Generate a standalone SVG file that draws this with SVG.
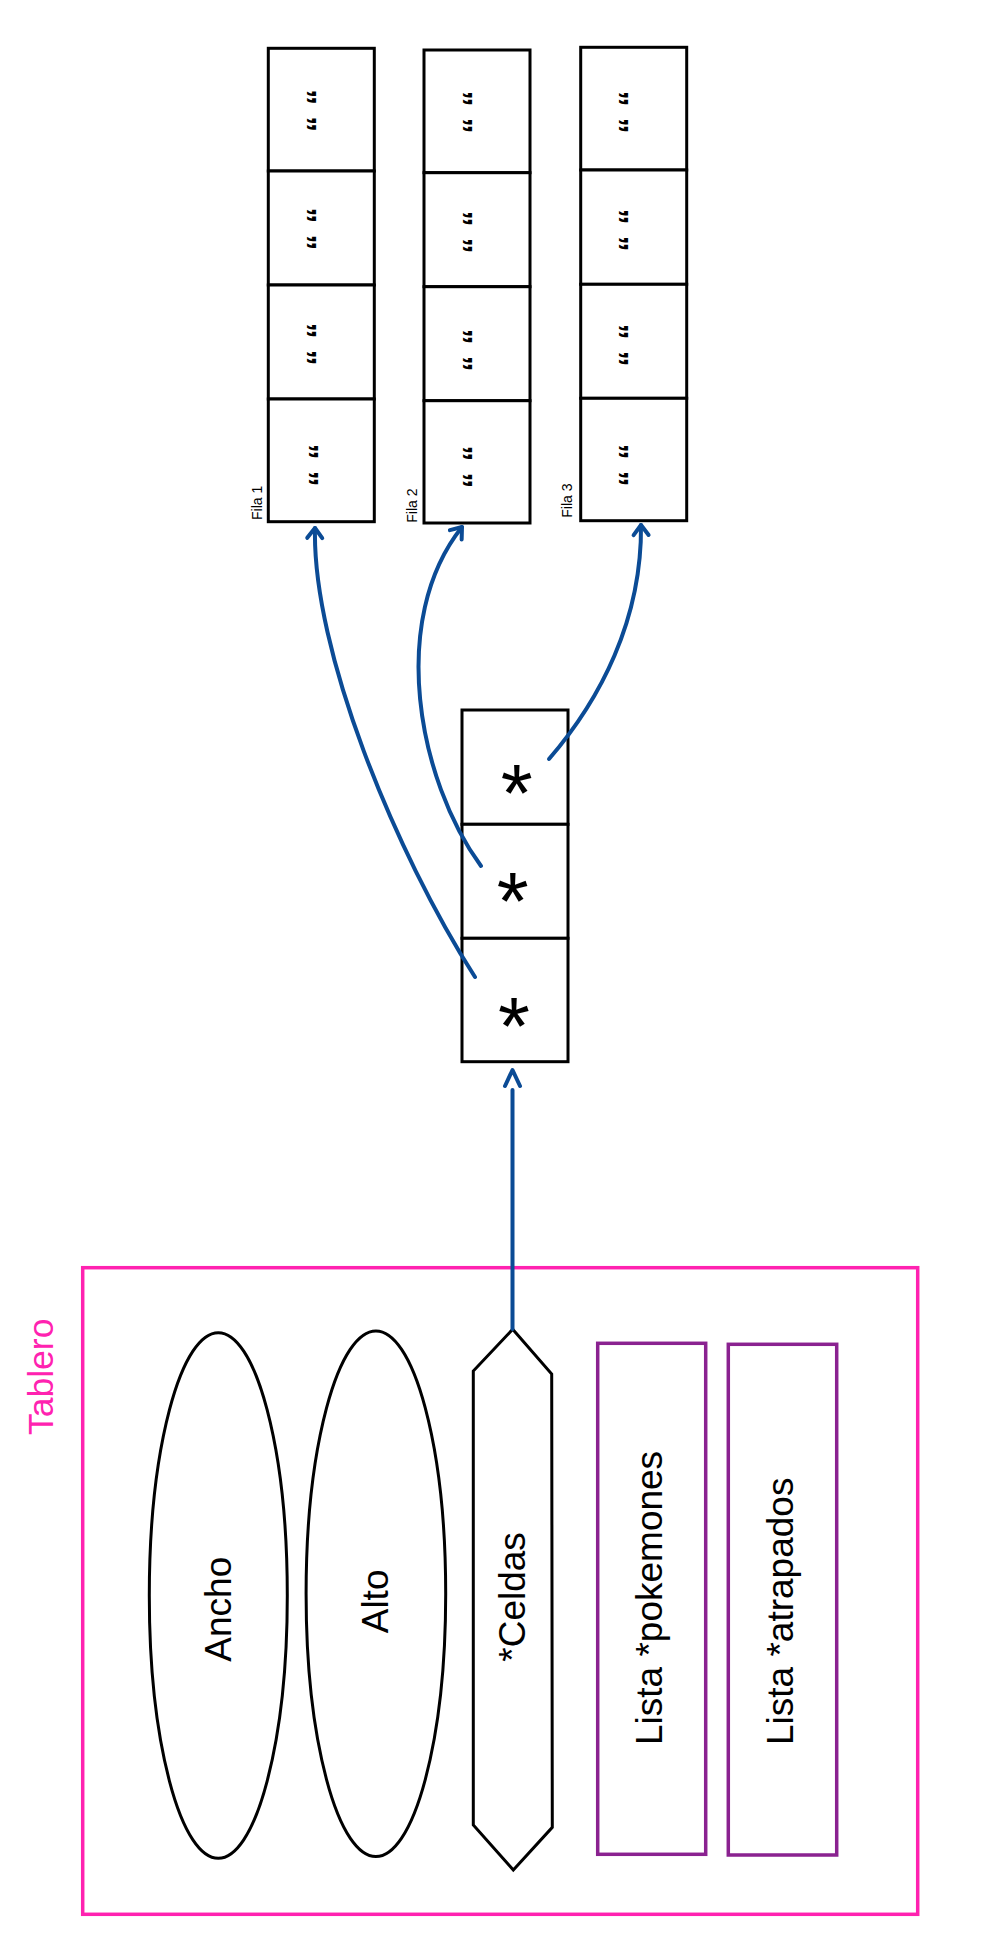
<svg xmlns="http://www.w3.org/2000/svg" width="999" height="1950" viewBox="0 0 999 1950">
<style>
.cell{fill:#fff;stroke:#000;stroke-width:3}
.shape{fill:#fff;stroke:#000;stroke-width:3}
.lst{fill:#fff;stroke:#8a2290;stroke-width:3.5}
.frame{fill:none;stroke:#ff22b0;stroke-width:3.5}
.t{font-family:"Liberation Sans",Arial,sans-serif;fill:#000}
.q{font-family:"Liberation Sans",Arial,sans-serif;font-size:32px;font-weight:bold;word-spacing:2px;fill:#000;text-anchor:middle}
.lbl{font-family:"Liberation Sans",Arial,sans-serif;font-size:14px;fill:#000}
.big{font-family:"Liberation Sans",Arial,sans-serif;font-size:37px;fill:#000}
.star{font-family:"Liberation Sans",Arial,sans-serif;font-size:82px;fill:#000;text-anchor:middle}
.conn{fill:none;stroke:#0b4b95;stroke-width:4;stroke-linecap:round}
</style>
<defs>
<marker id="ah" markerUnits="userSpaceOnUse" viewBox="-14 -10 18 20" refX="0" refY="0" markerWidth="18" markerHeight="20" orient="auto" overflow="visible">
<path d="M -10 -7.5 L 0 0 L -10 7.5" fill="none" stroke="#0b4b95" stroke-width="4" stroke-linecap="round" stroke-linejoin="round"/>
</marker>
<marker id="ahgap" markerUnits="userSpaceOnUse" viewBox="0 -10 24 20" refX="0" refY="0" markerWidth="24" markerHeight="20" orient="auto" overflow="visible">
<path d="M 4 -7.5 L 20 0 L 4 7.5" fill="none" stroke="#0b4b95" stroke-width="4" stroke-linecap="round" stroke-linejoin="round"/>
</marker>
</defs>

<g id="fila1">
<rect class="cell" x="268.3" y="48.3" width="106" height="122.7"/>
<rect class="cell" x="268.3" y="171" width="106" height="114"/>
<rect class="cell" x="268.3" y="285" width="106" height="114"/>
<rect class="cell" x="268.3" y="399" width="106" height="122.7"/>
<text class="q" transform="translate(329,110.5) rotate(-90)">“ “</text>
<text class="q" transform="translate(329,228.7) rotate(-90)">“ “</text>
<text class="q" transform="translate(329,344) rotate(-90)">“ “</text>
<text class="q" transform="translate(331,465) rotate(-90)">“ “</text>
<text class="lbl" transform="translate(262,520) rotate(-90)">Fila 1</text>
</g>

<g id="fila2">
<rect class="cell" x="424" y="50" width="106" height="122.7"/>
<rect class="cell" x="424" y="172.7" width="106" height="114"/>
<rect class="cell" x="424" y="286.7" width="106" height="114"/>
<rect class="cell" x="424" y="400.7" width="106" height="122.3"/>
<text class="q" transform="translate(485,112) rotate(-90)">“ “</text>
<text class="q" transform="translate(485,232) rotate(-90)">“ “</text>
<text class="q" transform="translate(485,350) rotate(-90)">“ “</text>
<text class="q" transform="translate(485,466.7) rotate(-90)">“ “</text>
<text class="lbl" transform="translate(417,522.7) rotate(-90)">Fila 2</text>
</g>

<g id="fila3">
<rect class="cell" x="580.7" y="47.3" width="106" height="122.7"/>
<rect class="cell" x="580.7" y="170" width="106" height="114.3"/>
<rect class="cell" x="580.7" y="284.3" width="106" height="114"/>
<rect class="cell" x="580.7" y="398.3" width="106" height="122.4"/>
<text class="q" transform="translate(641,112) rotate(-90)">“ “</text>
<text class="q" transform="translate(641,230) rotate(-90)">“ “</text>
<text class="q" transform="translate(641,345) rotate(-90)">“ “</text>
<text class="q" transform="translate(641,465) rotate(-90)">“ “</text>
<text class="lbl" transform="translate(571.5,517.7) rotate(-90)">Fila 3</text>
</g>

<g id="punteros">
<rect class="cell" x="462" y="710" width="106" height="114.3"/>
<rect class="cell" x="462" y="824.3" width="106" height="114"/>
<rect class="cell" x="462" y="938.3" width="106" height="123.4"/>
<text class="star" x="516.7" y="821">*</text>
<text class="star" x="512.7" y="929">*</text>
<text class="star" x="514" y="1054">*</text>
</g>

<g id="tablero">
<rect class="frame" x="82.7" y="1267.7" width="835" height="646.6"/>
<text class="t" font-size="35.5" style="fill:#ff22b0" transform="translate(53.3,1435) rotate(-90)">Tablero</text>
</g>

<g id="ancho">
<ellipse class="shape" cx="218.3" cy="1595.5" rx="69" ry="262.8"/>
<text class="big" transform="translate(230.7,1661.7) rotate(-90)">Ancho</text>
</g>

<g id="alto">
<ellipse class="shape" cx="375.9" cy="1593.8" rx="69.8" ry="262.8"/>
<text class="big" transform="translate(388.3,1633.3) rotate(-90)">Alto</text>
</g>

<g id="celdas">
<polygon class="shape" points="512.7,1329.3 551.7,1374 552.3,1827.3 513.3,1870 473.3,1825 473.3,1371"/>
<text class="big" transform="translate(525,1661.7) rotate(-90)">*Celdas</text>
</g>

<g id="pokemones">
<rect class="lst" x="597.7" y="1343.3" width="108" height="511"/>
<text class="big" transform="translate(661.7,1745) rotate(-90)">Lista *pokemones</text>
</g>

<g id="atrapados">
<rect class="lst" x="728.3" y="1344.3" width="108.4" height="510.7"/>
<text class="big" transform="translate(792.7,1745) rotate(-90)">Lista *atrapados</text>
</g>

<g id="connectors">
<path class="conn" d="M 512.5 1329 L 512.5 1090" marker-end="url(#ahgap)"/>
<path class="conn" d="M 475 977 C 395 852 312 650 315 528" marker-end="url(#ah)"/>
<path class="conn" d="M 481 866 C 418 780 388 620 462 527" marker-end="url(#ah)"/>
<path class="conn" d="M 549 759 C 600 700 642 620 641 525" marker-end="url(#ah)"/>
</g>
</svg>
